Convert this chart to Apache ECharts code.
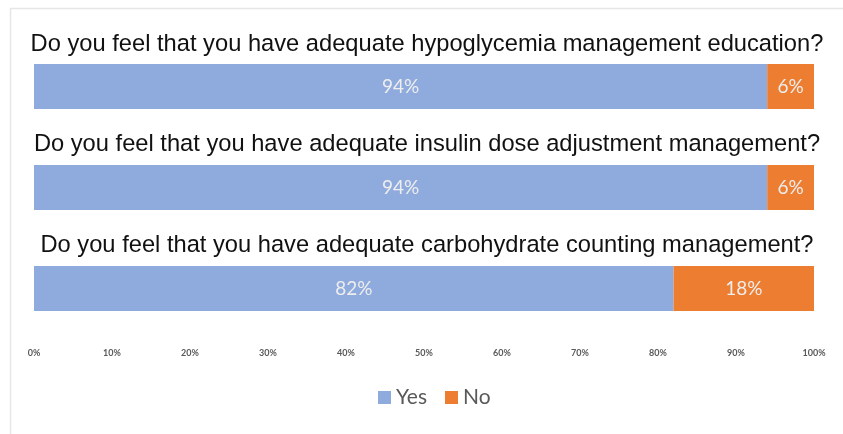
<!DOCTYPE html>
<html>
<head>
<meta charset="utf-8">
<script src="https://cdn.jsdelivr.net/npm/echarts@6/dist/echarts.min.js"></script>
<style>
  html, body { margin: 0; padding: 0; background: #fff; }
  #chart { width: 843px; height: 434px; }
</style>
</head>
<body>
<div id="chart"></div>
<script>
const questions = [
  'Do you feel that you have adequate hypoglycemia management education?',
  'Do you feel that you have adequate insulin dose adjustment management?',
  'Do you feel that you have adequate carbohydrate counting management?'
];
const yesValues = [94, 94, 82];
const noValues = [6, 6, 18];
const colors = ['#8faadc', '#ed7d31'];

const chart = echarts.init(document.getElementById('chart'));

const labelStyle = {
  show: true,
  position: 'inside',
  formatter: '{c}%',
  color: '#eeeeee',
  fontFamily: 'Lato',
  fontSize: 19
};

chart.setOption({
  animation: false,
  color: colors,
  grid: { left: 34, right: 29, top: 36, bottom: 95 },
  graphic: [
    {
      type: 'rect',
      shape: { x: 10.5, y: 8.5, width: 900, height: 500 },
      style: { fill: 'none', stroke: '#e6e6e6', lineWidth: 1.5 },
      silent: true
    }
  ].concat(questions.map((q, i) => ({
    type: 'text',
    x: 427,
    y: 44 + i * 100.5,
    style: {
      text: q,
      textAlign: 'center',
      textVerticalAlign: 'middle',
      font: '23.7px "Liberation Sans", Arial, sans-serif',
      fill: '#111'
    }
  }))),
  legend: {
    bottom: 21,
    left: 373,
    itemWidth: 13,
    itemHeight: 13,
    itemGap: 18,
    icon: 'rect',
    textStyle: { color: '#595959', fontFamily: 'Lato', fontSize: 21 },
    data: ['Yes', 'No']
  },
  xAxis: {
    type: 'value',
    min: 0,
    max: 100,
    interval: 10,
    axisLine: { show: false },
    axisTick: { show: false },
    splitLine: { show: false },
    axisLabel: {
      formatter: '{value}%',
      color: '#595959',
      fontSize: 9,
      fontWeight: 'bold',
      fontFamily: 'Lato',
      margin: 10
    }
  },
  yAxis: {
    type: 'category',
    inverse: true,
    data: questions,
    axisLine: { show: false },
    axisTick: { show: false },
    axisLabel: { show: false }
  },
  series: [
    {
      name: 'Yes',
      type: 'bar',
      stack: 'total',
      barWidth: 45,
      label: labelStyle,
      data: yesValues
    },
    {
      name: 'No',
      type: 'bar',
      stack: 'total',
      barWidth: 45,
      label: labelStyle,
      data: noValues
    }
  ]
});
</script>
</body>
</html>
